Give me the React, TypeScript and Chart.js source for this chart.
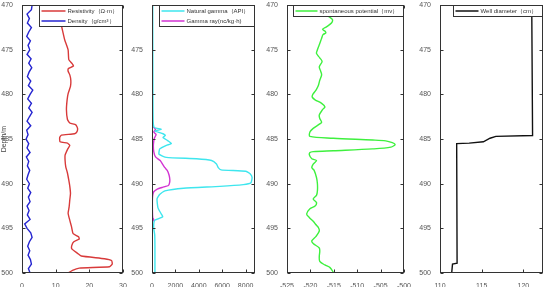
import React, { useEffect, useRef } from 'react';
import { Chart, registerables } from 'chart.js';
Chart.register(...registerables);

// ---------- tick labels ----------
const depthTicks = [470, 475, 480, 485, 490, 495, 500];
const depthTicksP2 = [475, 480, 485, 490, 495, 500];
const resTicks = [0, 10, 20, 30];
const gammaTicks = [0, 2000, 4000, 6000, 8000];
const spTicks = [-525, -520, -515, -510, -505, -500];
const wellTicks = [110, 115, 120];

// ---------- series ----------
const resDepth = [470, 471, 472.2, 473.1, 473.9, 475, 476.1, 476.5, 476.8, 477.1, 477.4, 477.8, 478.4, 479.1, 479.9, 480.6, 481.7, 482.8, 483.2, 483.4, 483.8, 484.2, 484.4, 484.55, 484.8, 485.3, 485.45, 485.7, 486.1, 486.8, 487.4, 488.1, 488.8, 489.6, 490.3, 491.1, 491.8, 492.6, 493.3, 494.1, 494.8, 495.6, 495.95, 496.2, 496.5, 496.9, 497.3, 497.8, 498.1, 498.4, 498.6, 499.0, 499.3, 499.45, 499.7, 500];
const resValues = [11.8, 11.8, 11.7, 12.2, 12.7, 13.7, 13.9, 14.8, 15.3, 13.8, 13.7, 14.2, 14.5, 14.4, 13.7, 13.4, 13.2, 13.5, 14.2, 16.0, 16.5, 16.3, 15.6, 11.7, 11.2, 11.3, 13.5, 14.2, 13.6, 12.8, 12.8, 13.0, 13.5, 13.9, 14.2, 14.4, 14.2, 14.0, 13.7, 14.2, 14.7, 15.2, 16.8, 17.0, 15.4, 14.8, 14.8, 16.5, 17.6, 24.5, 26.6, 26.8, 26.0, 17.0, 15.0, 13.8];

const densityDepth = [470, 470.5, 471, 471.5, 472, 472.5, 473, 473.5, 474, 474.5, 475, 475.5, 476, 476.5, 477, 477.5, 478, 478.5, 479, 479.5, 480, 480.5, 481, 481.5, 482, 482.5, 483, 483.5, 484, 484.5, 485, 485.5, 486, 486.5, 487, 487.5, 488, 488.5, 489, 489.5, 490, 490.5, 491, 491.5, 492, 492.5, 493, 493.5, 494, 494.5, 495, 495.5, 496, 496.5, 497, 497.5, 498, 498.5, 499, 499.5, 500];
const densityValues = [3.0, 2.8, 1.5, 2.2, 1.6, 2.8, 2.0, 1.4, 2.5, 1.8, 2.3, 1.5, 2.7, 2.0, 2.9, 2.1, 1.6, 2.6, 1.9, 3.2, 2.4, 1.7, 2.8, 2.0, 3.0, 2.2, 1.5, 2.6, 1.4, 1.8, 1.2, 2.0, 1.5, 2.4, 1.3, 2.0, 1.6, 2.3, 1.8, 1.4, 2.2, 1.7, 2.6, 1.9, 2.4, 1.5, 2.1, 1.6, 2.4, 0.8, 1.5, 2.6, 3.0, 2.2, 1.7, 2.3, 1.8, 2.5, 2.8, 1.9, 2.4];

const ngDepth = [470, 475, 480, 483.0, 483.7, 483.9, 484.1, 484.4, 484.6, 484.8, 485.2, 485.5, 485.7, 486.1, 486.7, 487.05, 487.2, 487.4, 487.8, 488.2, 488.45, 488.6, 488.9, 489.3, 489.9, 490.1, 490.3, 490.5, 490.8, 491.2, 491.7, 492.7, 493.4, 493.7, 494.1, 494.9, 495.7, 497, 500];
const ngValues = [60, 70, 80, 100, 200, 800, 250, 940, 1140, 940, 1370, 1660, 1230, 660, 600, 1230, 3800, 5090, 5510, 5660, 5900, 8000, 8400, 8550, 8450, 7800, 5800, 2700, 1100, 650, 430, 510, 800, 920, 230, 140, 230, 250, 250];

const mgDepth = [470, 480, 483.5, 483.9, 484.2, 484.5, 484.9, 485.6, 486.4, 487.0, 487.4, 487.8, 488.2, 488.5, 489.0, 489.5, 489.9, 490.2, 490.4, 490.6, 490.9, 491.3, 492, 493.8, 494.0, 494.3, 497, 500];
const mgValues = [10, 10, 20, 300, 150, 350, 200, 120, 150, 300, 700, 900, 1100, 1300, 1450, 1520, 1500, 1400, 900, 450, 150, 60, 30, 60, 150, 30, 15, 10];

const spDepth = [470.5, 471.2, 471.6, 472.0, 472.4, 472.7, 472.9, 473.1, 473.3, 473.7, 474.3, 475.0, 475.4, 475.9, 476.3, 476.9, 477.4, 477.8, 478.4, 479.0, 479.5, 480.0, 480.3, 480.6, 481.0, 481.4, 481.7, 482.3, 482.7, 483.1, 483.3, 483.8, 484.2, 484.7, 484.9, 485.1, 485.2, 485.4, 485.6, 485.9, 486.1, 486.3, 486.4, 486.5, 486.8, 487.2, 487.4, 487.8, 488.2, 488.5, 489.3, 490.0, 490.8, 491.3, 491.7, 492.1, 492.5, 492.8, 493.4, 493.8, 494.2, 494.6, 494.9, 495.3, 495.9, 496.4, 496.7, 497.2, 497.6, 498.1, 498.7, 499.1, 499.4, 500];
const spValues = [-516.5, -516.2, -515.3, -515.5, -516.5, -517.4, -516.9, -516.7, -517.3, -517.6, -518.0, -518.5, -518.7, -518.0, -517.5, -518.1, -517.8, -517.6, -518.0, -518.3, -518.8, -519.5, -519.6, -519.0, -517.6, -516.9, -517.4, -518.1, -518.0, -517.6, -518.0, -519.4, -520.1, -520.1, -515.1, -506.7, -503.9, -502.5, -501.9, -502.8, -506.7, -515.1, -519.4, -520.1, -520.2, -519.7, -518.7, -519.4, -519.7, -519.2, -518.7, -518.5, -518.5, -518.7, -519.4, -518.7, -519.0, -520.1, -520.8, -520.2, -519.4, -518.8, -518.3, -518.1, -518.8, -519.7, -519.4, -518.1, -518.0, -518.1, -518.0, -516.9, -515.8, -515.0];

const wellDepth = [470, 484.6, 484.7, 484.9, 485.3, 485.45, 485.5, 498.9, 499.0, 500];
const wellValues = [121.0, 121.1, 116.7, 116.0, 115.2, 113.5, 112.0, 112.05, 111.5, 111.4];

// ---------- chart panels ----------
type Series = { label: string; color: string; depth: number[]; values: number[]; tension: number };
type Panel = {
  left: number; width: number; yw: number; padR: number;
  xMin: number; xMax: number; xTicks: number[]; yTicks: number[]; title?: string;
  legendW: number; sample: number; series: Series[];
};

const FONT = '"Liberation Sans", Arial, sans-serif';

const panels: Panel[] = [
  {
    left: 0, width: 130, yw: 22, padR: 7, xMin: 0, xMax: 30, xTicks: resTicks, yTicks: depthTicks, title: 'Depth/m',
    legendW: 83, sample: 24,
    series: [
      { label: 'Resistivity（Ω·m）', color: '#d83a3a', depth: resDepth, values: resValues, tension: 0.15 },
      { label: 'Density（g/cm³）', color: '#2525d0', depth: densityDepth, values: densityValues, tension: 0 },
    ],
  },
  {
    left: 130, width: 130, yw: 22, padR: 5, xMin: 0, xMax: 8800, xTicks: gammaTicks, yTicks: depthTicksP2,
    legendW: 95, sample: 23,
    series: [
      { label: 'Natural gamma（API）', color: '#3ee6ee', depth: ngDepth, values: ngValues, tension: 0.15 },
      { label: 'Gamma ray(nc/kg·h)', color: '#d233d2', depth: mgDepth, values: mgValues, tension: 0.15 },
    ],
  },
  {
    left: 262, width: 150, yw: 25, padR: 7, xMin: -525, xMax: -500, xTicks: spTicks, yTicks: depthTicks,
    legendW: 110, sample: 22,
    series: [
      { label: 'spontaneous potential（mv）', color: '#3ef03e', depth: spDepth, values: spValues, tension: 0.3 },
    ],
  },
  {
    left: 413, width: 137, yw: 27, padR: 7, xMin: 110, xMax: 122.35, xTicks: wellTicks, yTicks: depthTicks,
    legendW: 89, sample: 23,
    series: [
      { label: 'Well diameter（cm）', color: '#111111', depth: wellDepth, values: wellValues, tension: 0 },
    ],
  },
];

function PanelChart({ p }: { p: Panel }) {
  const ref = useRef<HTMLCanvasElement | null>(null);
  useEffect(() => {
    if (!ref.current) return;
    const framePlugin = {
      id: 'frameLegend',
      afterDraw(chart: any) {
        const { ctx, chartArea: a, scales } = chart;
        ctx.save();
        ctx.strokeStyle = '#333';
        ctx.lineWidth = 1;
        const L = Math.round(a.left) + 0.5, R = Math.round(a.right) - 0.5;
        const T = Math.round(a.top) + 0.5, B = Math.round(a.bottom) - 0.5;
        ctx.strokeRect(L, T, R - L, B - T);
        const tl = 3;
        ctx.beginPath();
        scales.x.ticks.forEach((t: any) => {
          const px = Math.round(scales.x.getPixelForValue(t.value)) + 0.5;
          ctx.moveTo(px, B); ctx.lineTo(px, B - tl);
          ctx.moveTo(px, T); ctx.lineTo(px, T + tl);
        });
        scales.y.ticks.forEach((t: any) => {
          const py = Math.round(scales.y.getPixelForValue(t.value)) + 0.5;
          ctx.moveTo(L, py); ctx.lineTo(L + tl, py);
          ctx.moveTo(R, py); ctx.lineTo(R - tl, py);
        });
        ctx.stroke();
        // legend box
        const rowH = 10;
        const bw = p.legendW, bh = p.series.length * rowH + 1;
        const bx = R - bw, by = T;
        ctx.fillStyle = '#fff';
        ctx.fillRect(bx, by, bw, bh);
        ctx.strokeStyle = '#333';
        ctx.strokeRect(bx, by, bw, bh);
        ctx.font = '6px ' + FONT;
        ctx.textBaseline = 'middle';
        p.series.forEach((s, i) => {
          const y = by + 5.5 + i * rowH;
          ctx.strokeStyle = s.color;
          ctx.lineWidth = 1.5;
          ctx.beginPath();
          ctx.moveTo(bx + 2, y); ctx.lineTo(bx + 2 + p.sample, y);
          ctx.stroke();
          ctx.fillStyle = '#333';
          ctx.fillText(s.label, bx + 4 + p.sample, y);
        });
        ctx.restore();
      },
    };
    const chart = new Chart(ref.current, {
      type: 'scatter',
      data: {
        datasets: p.series.map((s) => ({
          label: s.label,
          data: s.depth.map((d, i) => ({ x: s.values[i], y: d })),
          showLine: true,
          borderColor: s.color,
          backgroundColor: s.color,
          borderWidth: 1.4,
          pointRadius: 0,
          tension: s.tension,
        })),
      },
      options: {
        animation: false,
        responsive: false,
        devicePixelRatio: 1,
        layout: { padding: { top: 5, right: p.padR, left: 0, bottom: 0 } },
        plugins: { legend: { display: false }, tooltip: { enabled: false } },
        scales: {
          x: {
            type: 'linear', min: p.xMin, max: p.xMax,
            grid: { display: false }, border: { display: false },
            ticks: { font: { size: 7, family: FONT }, color: '#555', padding: 1, maxRotation: 0, callback: (v: any) => String(v) },
            afterBuildTicks: (s: any) => { s.ticks = p.xTicks.map((v) => ({ value: v })); },
            afterFit: (s: any) => { s.height = 14; },
          },
          y: {
            type: 'linear', min: 470, max: 500, reverse: true,
            grid: { display: false }, border: { display: false },
            ticks: { font: { size: 7, family: FONT }, color: '#555', padding: 1, callback: (v: any) => String(v) },
            title: p.title ? { display: true, text: p.title, font: { size: 7, family: FONT }, color: '#444', padding: 0 } : { display: false },
            afterBuildTicks: (s: any) => { s.ticks = p.yTicks.map((v) => ({ value: v })); },
            afterFit: (s: any) => { s.width = p.yw; },
          },
        },
      },
      plugins: [framePlugin],
    } as any);
    return () => chart.destroy();
  }, [p]);
  return (
    <div style={{ position: 'absolute', left: p.left, top: 0, width: p.width, height: 287 }}>
      <canvas ref={ref} width={p.width} height={287} style={{ display: 'block' }} />
    </div>
  );
}

export default function App() {
  return (
    <div style={{ position: 'fixed', left: 0, top: 0, width: 550, height: 287, background: '#fff', overflow: 'hidden' }}>
      {panels.map((p, i) => (
        <PanelChart key={i} p={p} />
      ))}
    </div>
  );
}
